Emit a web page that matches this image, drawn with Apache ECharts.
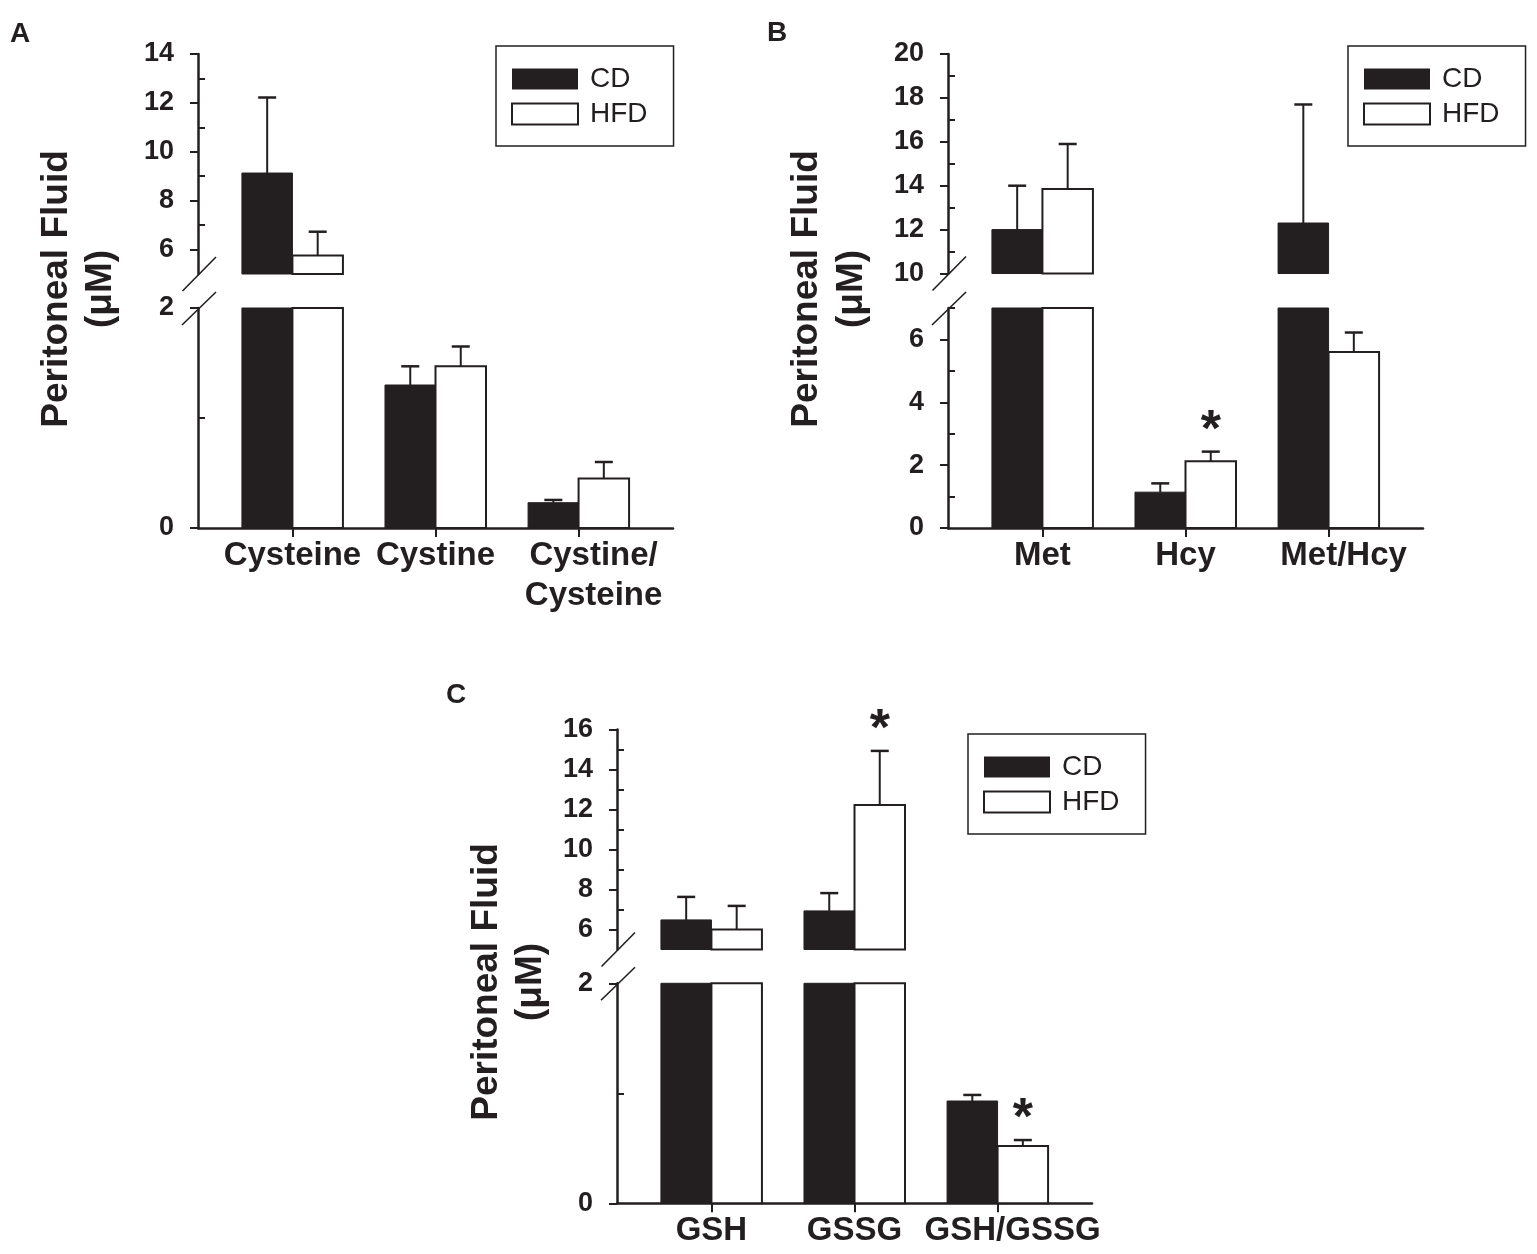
<!DOCTYPE html>
<html><head><meta charset="utf-8">
<script src="https://cdn.jsdelivr.net/npm/echarts@6/dist/echarts.min.js"></script>
<style>html,body{margin:0;padding:0;background:#fff}#c{width:1537px;height:1254px}</style>
</head><body><div id="c"></div>
<script>
// ---------------- DATA ----------------
const catsA = ['Cysteine', 'Cystine', 'Cystine/\nCysteine'];
const cdA = [9.13, 1.30, 0.23];
const cdErrA = [3.09, 0.17, 0.025];
const hfdA = [5.76, 1.47, 0.45];
const hfdErrA = [0.97, 0.18, 0.15];
const sigA = [false, false, false];

const catsB = ['Met', 'Hcy', 'Met/Hcy'];
const cdB = [12.0, 1.14, 12.3];
const cdErrB = [2.0, 0.28, 5.4];
const hfdB = [13.85, 2.12, 5.6];
const hfdErrB = [2.05, 0.31, 0.62];
const sigB = [false, true, false];

const catsC = ['GSH', 'GSSG', 'GSH/GSSG'];
const cdC = [6.48, 6.93, 0.93];
const cdErrC = [1.15, 0.89, 0.055];
const hfdC = [6.0, 12.23, 0.52];
const hfdErrC = [1.18, 2.7, 0.055];
const sigC = [false, true, true];

// axis ranges (broken axes) and tick values
const upperRangeA = [5, 14], lowerRangeA = [0, 2];
const upperMajorA = [6, 8, 10, 12, 14], upperMinorA = [7, 9, 11, 13];
const lowerMajorA = [0, 2], lowerMinorA = [1];

const upperRangeB = [10, 20], lowerRangeB = [0, 7];
const upperMajorB = [10, 12, 14, 16, 18, 20], upperMinorB = [11, 13, 15, 17, 19];
const lowerMajorB = [0, 2, 4, 6], lowerMinorB = [1, 3, 5, 7];

const upperRangeC = [5, 16], lowerRangeC = [0, 2];
const upperMajorC = [6, 8, 10, 12, 14, 16], upperMinorC = [7, 9, 11, 13, 15];
const lowerMajorC = [0, 2], lowerMinorC = [1];

const legendNames = ['CD', 'HFD'];
const yTitle = 'Peritoneal Fluid';
const yUnit = '(μM)';

// ---------------- STYLE / LAYOUT ----------------
const INK = '#231f20';
const FONT = '"Liberation Sans", Arial, Helvetica, sans-serif';
const AXIS_W = 475, X_MIN = -0.66, X_MAX = 2.66, BAR = 0.353;
const LABEL_POS = [0, 1, 2.105];   // label anchor positions (last label sits slightly right of its tick)

const panels = [
  { letter: 'A', cats: catsA, cd: cdA, cdErr: cdErrA, hfd: hfdA, hfdErr: hfdErrA, sig: sigA,
    up: upperRangeA, low: lowerRangeA, upMaj: upperMajorA, upMin: upperMinorA, lowMaj: lowerMajorA, lowMin: lowerMinorA,
    L: { x: 198, uTop: 54, uBot: 274, lTop: 308, lBot: 528, legL: 496, legT: 46, letX: 20, letY: 34, tX1: 57, tX2: 101, tY: 289 } },
  { letter: 'B', cats: catsB, cd: cdB, cdErr: cdErrB, hfd: hfdB, hfdErr: hfdErrB, sig: sigB,
    up: upperRangeB, low: lowerRangeB, upMaj: upperMajorB, upMin: upperMinorB, lowMaj: lowerMajorB, lowMin: lowerMinorB,
    L: { x: 948, uTop: 54, uBot: 273.5, lTop: 308, lBot: 528, legL: 1348, legT: 46, letX: 777, letY: 33, tX1: 807, tX2: 852, tY: 289 } },
  { letter: 'C', cats: catsC, cd: cdC, cdErr: cdErrC, hfd: hfdC, hfdErr: hfdErrC, sig: sigC,
    up: upperRangeC, low: lowerRangeC, upMaj: upperMajorC, upMin: upperMinorC, lowMaj: lowerMajorC, lowMin: lowerMinorC,
    L: { x: 617, uTop: 729.5, uBot: 949.5, lTop: 983.3, lBot: 1203.3, legL: 968, legT: 734, letX: 456, letY: 695, tX1: 487, tX2: 531, tY: 982 } }
];

function makeRender(range, group) {
  const lo = range[0], hi = range[1];
  return function (params, api) {
    const k = api.value(0), v = api.value(1), e = api.value(2), sig = api.value(3);
    if (v <= lo) return null;
    const xl = k + (group === 0 ? -BAR : 0), xr = k + (group === 0 ? 0 : BAR);
    const top = Math.min(v, hi);
    const pTL = api.coord([xl, top]), pBR = api.coord([xr, lo]);
    const children = [{
      type: 'rect',
      shape: { x: pTL[0], y: pTL[1], width: pBR[0] - pTL[0], height: pBR[1] - pTL[1] },
      style: { fill: group === 0 ? INK : '#fff', stroke: INK, lineWidth: group === 0 ? 1 : 2 }
    }];
    if (v < hi) {
      const cx = api.coord([k + (group === 0 ? -BAR / 2 : BAR / 2), v])[0];
      const yv = api.coord([k, v])[1];
      const ye = api.coord([k, Math.min(v + e, hi)])[1];
      children.push({ type: 'line', shape: { x1: cx, y1: yv, x2: cx, y2: ye }, style: { stroke: INK, lineWidth: 2 } });
      children.push({ type: 'line', shape: { x1: cx - 9, y1: ye, x2: cx + 9, y2: ye }, style: { stroke: INK, lineWidth: 2.5 } });
      if (sig) {
        children.push({ type: 'text', x: cx, y: ye - 20,
          style: { text: '*', fontSize: 52, fontWeight: 'bold', fontFamily: FONT, fill: INK, align: 'center', verticalAlign: 'middle' } });
      }
    }
    return { type: 'group', children: children };
  };
}

const grid = [], xAxis = [], yAxis = [], series = [], legend = [], graphic = [];

panels.forEach(function (p, i) {
  const L = p.L;
  const segs = [
    { range: p.up, maj: p.upMaj, min: p.upMin, top: L.uTop, bot: L.uBot, showX: false },
    { range: p.low, maj: p.lowMaj, min: p.lowMin, top: L.lTop, bot: L.lBot, showX: true }
  ];
  segs.forEach(function (s, si) {
    const gi = 2 * i + si;
    grid.push({ left: L.x, top: s.top, width: AXIS_W, height: s.bot - s.top, containLabel: false });
    xAxis.push({
      type: 'value', gridIndex: gi, min: X_MIN, max: X_MAX, show: s.showX,
      axisLine: { show: true, onZero: false, lineStyle: { color: INK, width: 2.5 } },
      axisTick: { show: true, customValues: [0, 1, 2], length: 9, lineStyle: { color: INK, width: 2 } },
      axisLabel: { show: true, customValues: LABEL_POS, margin: 8, showMinLabel: true, showMaxLabel: true, hideOverlap: false,
        formatter: function (val) { return p.cats[Math.round(val)] || ''; },
        fontSize: 33, fontWeight: 'bold', fontFamily: FONT, color: INK, lineHeight: 40 },
      splitLine: { show: false }
    });
    yAxis.push({
      type: 'value', gridIndex: gi, min: s.range[0], max: s.range[1], position: 'left',
      axisLine: { show: true, onZero: false, lineStyle: { color: INK, width: 2.5 } },
      axisTick: { show: true, inside: false, customValues: s.maj, length: 8, lineStyle: { color: INK, width: 2 } },
      axisLabel: { show: true, customValues: s.maj, showMinLabel: true, showMaxLabel: true,
        fontSize: 27, fontWeight: 'bold', fontFamily: FONT, color: INK, margin: 24 },
      splitLine: { show: false }
    });
    yAxis.push({
      type: 'value', gridIndex: gi, min: s.range[0], max: s.range[1], position: 'left',
      axisLine: { show: false, onZero: false },
      axisTick: { show: true, inside: true, customValues: s.min, length: 7, lineStyle: { color: INK, width: 2 } },
      axisLabel: { show: false },
      splitLine: { show: false }
    });
    [0, 1].forEach(function (g) {
      const vals = g === 0 ? p.cd : p.hfd, errs = g === 0 ? p.cdErr : p.hfdErr;
      series.push({
        type: 'custom', name: legendNames[g], xAxisIndex: gi, yAxisIndex: 2 * gi, clip: false,
        itemStyle: g === 0 ? { color: INK } : { color: '#fff', borderColor: INK, borderWidth: 2 },
        renderItem: makeRender(s.range, g),
        encode: { x: 0, y: 1 },
        data: p.cats.map(function (c, k) { return [k, vals[k], errs[k], (g === 1 && p.sig[k]) ? 1 : 0]; })
      });
    });
  });

  legend.push({
    orient: 'vertical', left: L.legL, top: L.legT, selectedMode: false,
    itemWidth: 66, itemHeight: 21, itemGap: 7, padding: [19, 26, 18, 15],
    borderColor: INK, borderWidth: 1.5,
    data: [
      { name: legendNames[0], icon: 'rect', itemStyle: { color: INK, borderColor: INK, borderWidth: 0 } },
      { name: legendNames[1], icon: 'rect', itemStyle: { color: '#fff', borderColor: INK, borderWidth: 2 } }
    ],
    formatter: function (n) { return '{t|' + n + '}'; },
    textStyle: { fontSize: 28, fontFamily: FONT, color: INK, lineHeight: 21,
      rich: { t: { fontSize: 28, fontFamily: FONT, color: INK, padding: [0, 0, 0, 7], lineHeight: 21, height: 21 } } }
  });

  // break marks
  [[L.uBot, -15.5, 17, 18, -17], [L.lTop, -16, 17, 18, -16]].forEach(function (b) {
    graphic.push({ type: 'line', z: 100, shape: { x1: L.x + b[1], y1: b[0] + b[2], x2: L.x + b[3], y2: b[0] + b[4] },
      style: { stroke: INK, lineWidth: 1.6 } });
  });
  // y titles
  graphic.push({ type: 'text', x: L.tX1, y: L.tY, rotation: Math.PI / 2,
    style: { text: yTitle, fontSize: 37, fontWeight: 'bold', fontFamily: FONT, fill: INK, align: 'center', verticalAlign: 'middle' } });
  graphic.push({ type: 'text', x: L.tX2, y: L.tY, rotation: Math.PI / 2,
    style: { text: yUnit, fontSize: 37, fontWeight: 'bold', fontFamily: FONT, fill: INK, align: 'center', verticalAlign: 'middle' } });
  // panel letter
  graphic.push({ type: 'text', x: L.letX, y: L.letY,
    style: { text: p.letter, fontSize: 28, fontWeight: 'bold', fontFamily: FONT, fill: INK, align: 'center', verticalAlign: 'middle' } });
});

const chart = echarts.init(document.getElementById('c'), null, { renderer: 'canvas' });
chart.setOption({
  backgroundColor: '#fff',
  animation: false,
  grid: grid, xAxis: xAxis, yAxis: yAxis, series: series, legend: legend, graphic: graphic
});
</script>
</body></html>
